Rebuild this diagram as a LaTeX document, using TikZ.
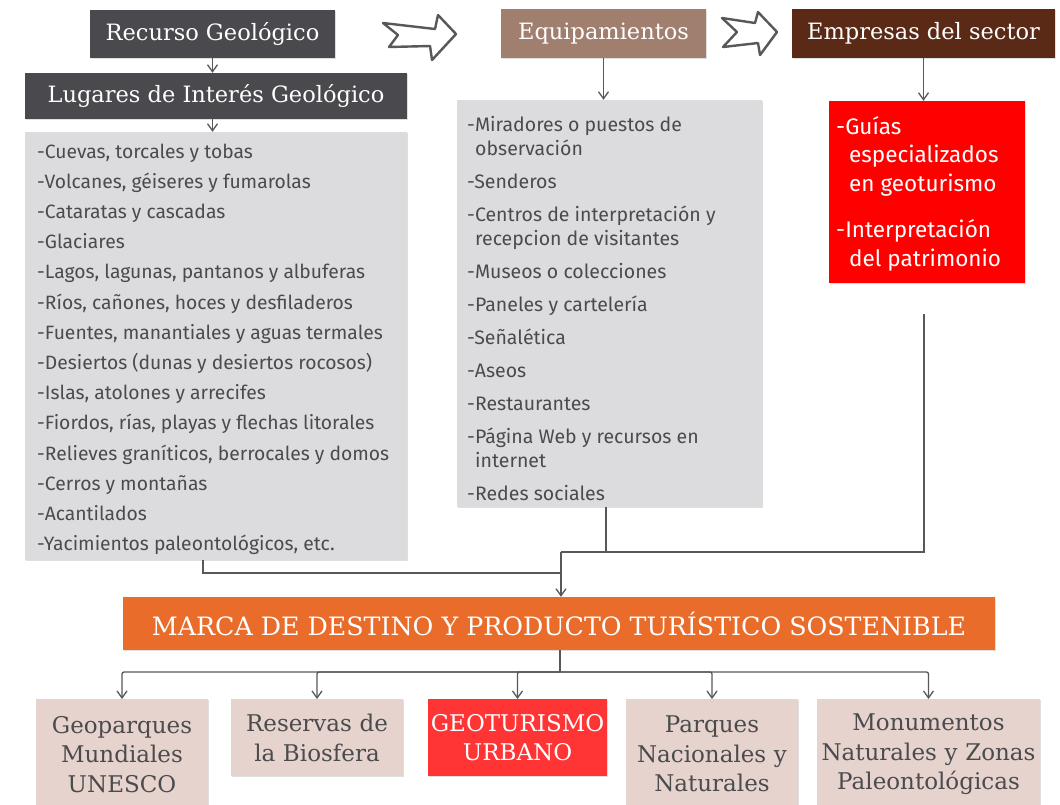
\documentclass[tikz,border=0pt]{standalone}
\usepackage{fontspec}
\setmainfont{Fira Sans}
\newfontfamily\slabfont{DejaVu Serif}
\usepackage{xcolor}
\usepackage{tikz}
\usetikzlibrary{arrows.meta,shadows}
\definecolor{headgray}{HTML}{4A494D}
\definecolor{taupe}{HTML}{A17F6F}
\definecolor{headbrown}{HTML}{5B2A16}
\definecolor{listgray}{HTML}{DCDCDE}
\definecolor{txtgray}{HTML}{4B4B4D}
\definecolor{guiared}{HTML}{FF0000}
\definecolor{marcaorange}{HTML}{E96C2A}
\definecolor{destpink}{HTML}{E6D3CD}
\definecolor{urbred}{HTML}{FF3535}
\definecolor{linegray}{HTML}{58585A}
\tikzstyle{softshadow}=[drop shadow={shadow xshift=1pt,shadow yshift=-1pt,opacity=0.25}]
\tikzstyle{headbox}=[softshadow,inner sep=0pt,text=white,font=\slabfont\fontsize{22.5}{26}\selectfont]
\tikzstyle{listbox}=[softshadow,fill=listgray,inner sep=0pt]
\tikzstyle{listtext}=[anchor=north west,inner sep=0pt,align=left,text=txtgray]
\tikzstyle{destbox}=[softshadow,anchor=north,fill=destpink,text=txtgray,align=center,inner xsep=0pt,inner ysep=2pt,minimum height=77pt,font=\slabfont\fontsize{23}{29.5}\selectfont]
\tikzstyle{wire}=[draw=linegray,line width=1.3pt]
\tikzstyle{conn}=[wire,-{Straight Barb[length=7pt,width=10pt]}]
\tikzstyle{bigarrow}=[draw=linegray,fill=white,line width=2.4pt,line join=round,softshadow]

\begin{document}
\begin{tikzpicture}[x=1pt,y=-1pt]
\useasboundingbox (0,0) rectangle (1060,804);
% top row
\node[headbox,fill=headgray,minimum width=245pt,minimum height=48pt] (recurso) at (212.5,34) {Recurso Geológico};
\node[headbox,fill=headgray,minimum width=382pt,minimum height=46pt] (lugares) at (216,96) {Lugares de Interés Geológico};
\node[headbox,fill=taupe,minimum width=205pt,minimum height=49pt] (equip) at (603.5,33.5) {Equipamientos};
\node[headbox,fill=headbrown,minimum width=263pt,minimum height=49pt] (empresas) at (923.5,33.5) {Empresas del sector};
% hollow arrows
\draw[bigarrow] (383,23) -- (398,35) -- (389,47) -- (430,46) -- (432,60) -- (456,34) -- (438,15) -- (435,29) -- cycle;
\draw[bigarrow] (722,18) -- (737,32) -- (723,47) -- (758,43) -- (760,55) -- (777,32) -- (758,12) -- (755,23) -- cycle;
% lists
\node[listbox,minimum width=382pt,minimum height=428pt] (lista) at (216,346) {};
\node[listtext,font=\fontsize{19.3}{30.2}\selectfont] (listatxt) at (37,143.5) {-Cuevas, torcales y tobas\\-Volcanes, géiseres y fumarolas\\-Cataratas y cascadas\\-Glaciares\\-Lagos, lagunas, pantanos y albuferas\\-Ríos, cañones, hoces y desfiladeros\\-Fuentes, manantiales y aguas termales\\-Desiertos (dunas y desiertos rocosos)\\-Islas, atolones y arrecifes\\-Fiordos, rías, playas y flechas litorales\\-Relieves graníticos, berrocales y domos\\-Cerros y montañas\\-Acantilados\\-Yacimientos paleontológicos, etc.};
\node[listbox,minimum width=305pt,minimum height=407pt] (elist) at (609.5,303.5) {};
\node[listtext,font=\fontsize{19.5}{24}\selectfont] (elisttxt) at (467,116) {-Miradores o puestos de\\\hspace*{8pt}observación\\[9pt]-Senderos\\[9pt]-Centros de interpretación y\\\hspace*{8pt}recepcion de visitantes\\[9pt]-Museos o colecciones\\[9pt]-Paneles y cartelería\\[9pt]-Señalética\\[9pt]-Aseos\\[9pt]-Restaurantes\\[9pt]-Página Web y recursos en\\\hspace*{8pt}internet\\[9pt]-Redes sociales};
\node[fill=guiared,inner sep=0pt,minimum width=196pt,minimum height=182pt,softshadow] (guias) at (927,192) {};
\node[listtext,text=white,font=\fontsize{22.5}{28.5}\selectfont] (guiastxt) at (836,116) {-Guías\\\hspace*{13pt}especializados\\\hspace*{13pt}en geoturismo\\[18pt]-Interpretación\\\hspace*{13pt}del patrimonio};
% marca
\node[softshadow,fill=marcaorange,text=white,inner sep=0pt,minimum width=872pt,minimum height=53pt,font=\slabfont\fontsize{25.3}{28}\selectfont] (marca) at (559,623.5) {MARCA DE DESTINO Y PRODUCTO TURÍSTICO SOSTENIBLE};
% destinos
\node[destbox,text width=172pt,minimum height=110pt] (geo) at (122,699) {Geoparques\\Mundiales\\UNESCO};
\node[destbox,text width=172pt] (biosfera) at (317,699) {Reservas de\\la Biosfera};
\node[destbox,text width=179pt,fill=urbred,text=white] (urbano) at (517.5,699) {GEOTURISMO\\URBANO};
\node[destbox,text width=172pt,minimum height=110pt] (parques) at (712,699) {Parques\\Nacionales y\\Naturales};
\node[destbox,text width=223pt,minimum height=110pt] (monum) at (928.5,699) {Monumentos\\Naturales y Zonas\\Paleontológicas};
% connectors
\draw[conn] (recurso.south) -- (lugares.north -| recurso.south);
\draw[conn] (lugares.south -| recurso.south) -- (lista.north -| recurso.south);
\draw[conn] (equip.south) -- (equip.south |- elist.north);
\draw[conn] (empresas.south) -- (empresas.south |- guias.north);
\coordinate (gtail) at (924,314);
\coordinate (jn) at (561,552);
\coordinate (jnlow) at (561,573);
\coordinate (hub) at (560,672);
\draw[wire] (gtail) |- (jn);
\draw[wire] (elist.south -| 606,0) -- (606,552);
\draw[wire] ([xshift=-13pt]lista.south) |- (jnlow);
\draw[conn] (jn) -- (jn |- marca.north);
\draw[wire] (marca.south -| hub) -- (hub);
\foreach \d in {geo,biosfera,urbano,parques,monum}
  \draw[conn,rounded corners=2pt] (hub) -| (\d.north);
\end{tikzpicture}
\end{document}
